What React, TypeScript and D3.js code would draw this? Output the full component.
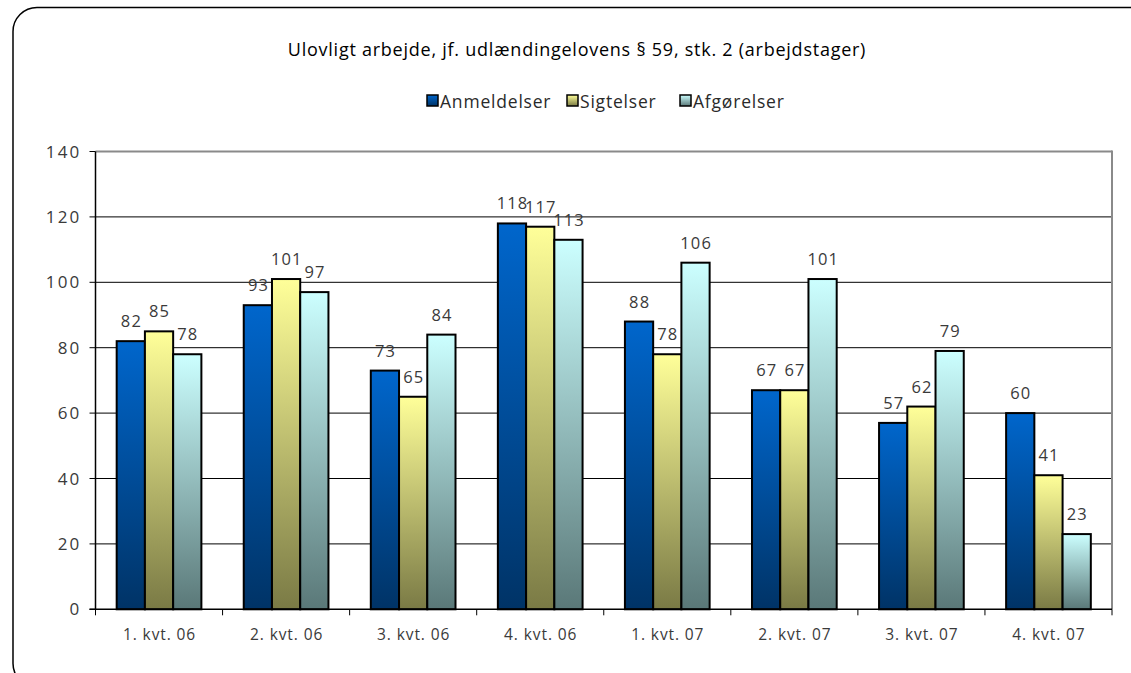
import React from "react";
import * as d3 from "d3";

const categories = ["1. kvt. 06", "2. kvt. 06", "3. kvt. 06", "4. kvt. 06", "1. kvt. 07", "2. kvt. 07", "3. kvt. 07", "4. kvt. 07"];
const seriesNames = ["Anmeldelser", "Sigtelser", "Afgørelser"];
const anmeldelser = [82, 93, 73, 118, 88, 67, 57, 60];
const sigtelser = [85, 101, 65, 117, 78, 67, 62, 41];
const afgoerelser = [78, 97, 84, 113, 106, 101, 79, 23];
const yTicks = [0, 20, 40, 60, 80, 100, 120, 140];
const title = "Ulovligt arbejde, jf. udlændingelovens § 59, stk. 2 (arbejdstager)";

const gradients = [
  { id: "gBlue", top: "#0066CC", bottom: "#003366" },
  { id: "gYellow", top: "#FFFF99", bottom: "#7A7A45" },
  { id: "gCyan", top: "#CCFFFF", bottom: "#5A7878" },
];

const W = 1131;
const H = 673;
const plot = { left: 95.5, right: 1112, top: 151.5, bottom: 609.3 };
const labelFont = "'Open Sans', 'Noto Sans', sans-serif";

export default function App() {
  const series = [anmeldelser, sigtelser, afgoerelser];
  const x0 = d3.scaleBand<string>().domain(categories).range([plot.left, plot.right]).paddingInner(1.5 / 4.5).paddingOuter(0.75 / 4.5);
  const x1 = d3.scaleBand<number>().domain([0, 1, 2]).range([0, x0.bandwidth()]).padding(0);
  const y = d3.scaleLinear().domain([0, 140]).range([plot.bottom, plot.top]);
  const step = (plot.right - plot.left) / categories.length;

  const legendX = [427, 567, 680];

  return (
    <svg width={W} height={H} style={{ position: "fixed", left: 0, top: 0, background: "#fff" }}>
      <defs>
        {gradients.map((g) => (
          <linearGradient key={g.id} id={g.id} x1="0" y1="0" x2="0" y2="1">
            <stop offset="0%" stopColor={g.top} />
            <stop offset="100%" stopColor={g.bottom} />
          </linearGradient>
        ))}
      </defs>
      <rect x={13} y={7.5} width={1140} height={680} rx={24} ry={24} fill="none" stroke="#000" strokeWidth={1.5} />
      <text x={577} y={56} textAnchor="middle" fontFamily={labelFont} fontSize={18} letterSpacing={0.75} fill="#000">{title}</text>

      {seriesNames.map((name, i) => (
        <g key={name}>
          <rect x={legendX[i]} y={95} width={11} height={11} fill={`url(#${gradients[i].id})`} stroke="#000" strokeWidth={1.5} />
          <text x={legendX[i] + 13} y={107.5} fontFamily={labelFont} fontSize={17.5} letterSpacing={0.8} fill="#2a2a2a">{name}</text>
        </g>
      ))}

      {yTicks.filter((t) => t > 0 && t < 140).map((t) => (
        <line key={t} x1={plot.left} x2={plot.right} y1={y(t)} y2={y(t)} stroke="#000" strokeWidth={1} />
      ))}
      <line x1={plot.left} x2={plot.right} y1={plot.top} y2={plot.top} stroke="#8a8a8a" strokeWidth={2} />
      <line x1={plot.right} x2={plot.right} y1={plot.top - 1} y2={plot.bottom} stroke="#8a8a8a" strokeWidth={2} />

      {categories.map((c, ci) => (
        <g key={c}>
          {series.map((s, si) => (
            <rect
              key={si}
              x={(x0(c) as number) + (x1(si) as number)}
              y={y(s[ci])}
              width={x1.bandwidth()}
              height={plot.bottom - y(s[ci])}
              fill={`url(#${gradients[si].id})`}
              stroke="#000"
              strokeWidth={2}
            />
          ))}
          {series.map((s, si) => (
            <text
              key={"l" + si}
              x={(x0(c) as number) + (x1(si) as number) + x1.bandwidth() / 2 + 0.6}
              y={y(s[ci]) - 14}
              textAnchor="middle"
              fontFamily={labelFont}
              fontSize={16.5}
              letterSpacing={1.1}
              fill="#3a3a3a"
            >
              {s[ci]}
            </text>
          ))}
        </g>
      ))}

      <line x1={plot.left} x2={plot.left} y1={plot.top} y2={plot.bottom} stroke="#000" strokeWidth={1.5} />
      <line x1={plot.left - 6} x2={plot.right} y1={plot.bottom} y2={plot.bottom} stroke="#000" strokeWidth={1.5} />
      {yTicks.map((t) => (
        <g key={t}>
          <line x1={plot.left - 6} x2={plot.left} y1={y(t)} y2={y(t)} stroke="#000" strokeWidth={1} />
          <text x={81.5} y={y(t) + 6} textAnchor="end" fontFamily={labelFont} fontSize={17} letterSpacing={2.2} fill="#3a3a3a">{t}</text>
        </g>
      ))}
      {d3.range(categories.length + 1).map((i) => (
        <line key={i} x1={plot.left + i * step} x2={plot.left + i * step} y1={plot.bottom} y2={plot.bottom + 6} stroke="#000" strokeWidth={1} />
      ))}
      {categories.map((c) => (
        <text key={c} x={(x0(c) as number) + x0.bandwidth() / 2 + 0.5} y={640} textAnchor="middle" fontFamily={labelFont} fontSize={15.5} letterSpacing={0.9} fill="#3a3a3a">{c}</text>
      ))}
    </svg>
  );
}
